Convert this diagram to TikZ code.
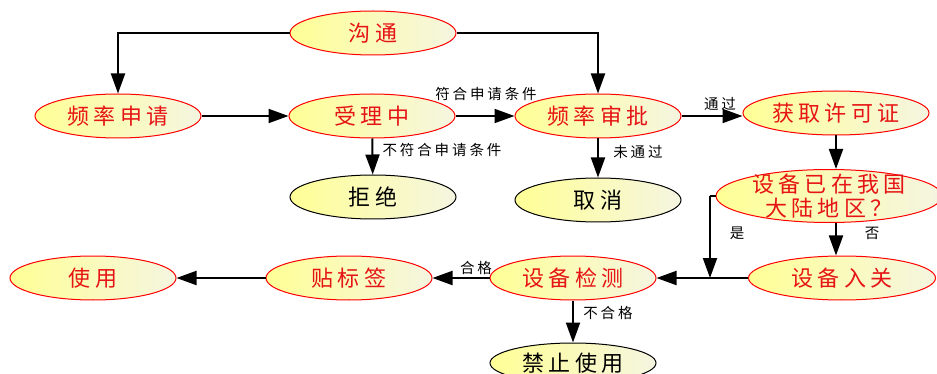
\documentclass[tikz,border=0pt]{standalone}
\usepackage{fontspec}
\newfontfamily\cjk[LetterSpace=20]{Noto Sans CJK SC}
\usetikzlibrary{shapes.geometric,arrows.meta}
\definecolor{fillA}{RGB}{255,255,150}
\definecolor{fillB}{RGB}{245,245,225}
\definecolor{txtred}{RGB}{230,20,20}
\tikzset{
  ell/.style={ellipse, draw=red, line width=1pt, left color=fillA, right color=fillB,
    minimum width=166pt, minimum height=44pt, inner sep=0pt, text=txtred,
    font=\cjk\fontsize{22}{25}\selectfont, align=center},
  ellk/.style={ell, draw=black, text=black},
  arr/.style={line width=2pt, -{Triangle[length=20pt,width=14pt]}},
  ln/.style={line width=2pt},
  lab/.style={font=\cjk\fontsize{14.5}{16}\selectfont, inner sep=0pt}
}
\begin{document}
\begin{tikzpicture}[x=1pt,y=-1pt]
\useasboundingbox (0,0) rectangle (937,374);
\node[ell] (gt) at (373,33) {沟通};
\node[ell] (sq) at (118,116) {频率申请};
\node[ell] (sl) at (372,116) {受理中};
\node[ellk] (jj) at (373,197) {拒绝};
\node[ell] (sp) at (598,116) {频率审批};
\node[ellk] (qx) at (598,200) {取消};
\node[ell, minimum width=186pt] (xk) at (836,113) {获取许可证};
\node[ell, minimum width=226pt, minimum height=53pt, inner sep=-9pt] (zg) at (829,196) {设备已在我国\\[-1pt]大陆地区？};
\node[ell, minimum width=187pt] (rg) at (842,278) {设备入关};
\node[ell] (jc) at (573,278) {设备检测};
\node[ellk, minimum height=40pt] (jz) at (573,363) {禁止使用};
\node[ell] (tb) at (349,278) {贴标签};
\node[ell] (sy) at (93,278) {使用};
\coordinate (jn) at (710,278);
\coordinate (jt) at (710,196);
\draw[arr] (gt.west) -| (sq.north);
\draw[arr] (gt.east) -| (sp.north);
\draw[arr] (sq) -- (sl);
\draw[arr] (sl) -- (sp);
\draw[arr] (sl) -- (jj);
\draw[arr] (sp) -- (qx);
\draw[arr] (sp.east) -- (sp.east -| xk.west);
\draw[arr] (xk.south) -- (zg.north -| xk.south);
\draw[arr] (zg.south -| xk.south) -- (rg.north -| xk.south);
\draw[ln] (zg.west) -- (jt);
\draw[arr] (jt) -- (jn);
\draw[arr] (rg) -- (jc);
\draw[arr] (jc) -- (tb);
\draw[arr] (tb) -- (sy);
\draw[arr] (jc) -- (jz);
\node[lab] (l1) at (486,94) {符合申请条件};
\node[lab] (l2) at (442,150) {不符合申请条件};
\node[lab] (l3) at (638,152) {未通过};
\node[lab] (l4) at (720,104) {通过};
\node[lab] (l5) at (737,233) {是};
\node[lab] (l6) at (872,233) {否};
\node[lab] (l7) at (476,268) {合格};
\node[lab] (l8) at (608,313) {不合格};
\end{tikzpicture}
\end{document}
